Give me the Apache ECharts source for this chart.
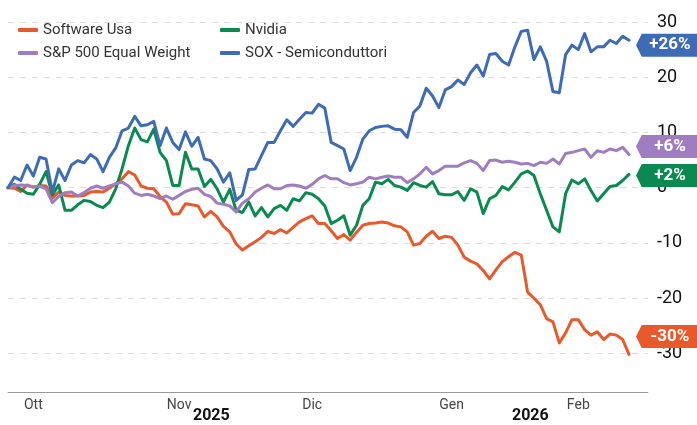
<!DOCTYPE html>
<html>
<head>
<meta charset="utf-8">
<script src="https://cdn.jsdelivr.net/npm/echarts@6/dist/echarts.min.js"></script>
<style>
  html, body { margin: 0; padding: 0; background: #fff; }
  #chart { width: 697px; height: 425px; }
</style>
</head>
<body>
<div id="chart"></div>
<script>
// sedute di borsa (indice), etichette dei mesi sull'asse x
const days = Array.from({ length: 102 }, (_, i) => String(i));
const monthIdx = [4, 27, 48, 70, 90];
const monthLbl = ['Ott', 'Nov', 'Dic', 'Gen', 'Feb'];
const yTicks = [-30, -20, -10, 0, 10, 20, 30];

// variazione % dall'inizio del periodo
const software = [0, -0.1, -0.7, 0.5, 0.1, 0.4, 0.3, -1.9, -0.8, -1.4, -1.5, -1.5, -1.4, -0.8, -0.7, -0.8, -0.1, 0.7, 1.6, 2.9,
  2.3, 0.3, -0.1, -0.2, -1.6, -2.6, -4.8, -4.7, -2.9, -3.1, -3.3, -5.3, -4.3, -5.3, -7.0, -8.0, -10.2, -11.3, -10.5, -9.8,
  -9.0, -7.9, -8.3, -7.6, -8.2, -7.2, -6.2, -5.6, -5.1, -6.5, -6.5, -7.8, -9.2, -8.5, -9.5, -8.1, -6.8, -6.5, -6.4, -6.2,
  -6.4, -6.9, -7.1, -8.0, -10.4, -10.1, -8.8, -7.9, -9.2, -8.8, -9.0, -10.4, -12.6, -13.3, -13.8, -15.0, -16.5, -14.9, -13.4, -12.5,
  -11.7, -12.2, -18.9, -20.0, -21.2, -23.7, -24.3, -28.1, -26.3, -23.9, -23.9, -25.7, -26.7, -26.1, -27.5, -26.5, -26.7, -27.5, -30.2];
const nvidia = [0, 0.6, -0.3, -1.0, -1.2, 0.6, 2.9, -1.3, 0.5, -4.1, -4.1, -3.1, -2.3, -2.5, -3.2, -3.6, -2.6, -0.2, 3.4, 7.6,
  10.8, 8.7, 8.3, 10.6, 6.4, 4.9, 0.4, 0.4, 6.4, 3.4, 3.4, 0.2, 1.5, -0.2, -2.6, -0.3, -4.1, -4.5, -2.6, -5.1,
  -3.6, -5.3, -3.8, -3.2, -4.1, -2.0, -2.4, -0.9, -1.2, -2.0, -3.3, -6.5, -5.9, -5.1, -8.6, -6.8, -3.2, -2.0, 1.0, 0.7,
  1.5, 0.4, 0.1, -0.5, 0.9, 0.4, 0.1, 1.1, -1.1, -1.3, -1.3, -0.7, -2.3, -0.2, -0.8, -4.7, -2.0, -1.4, 0.2, -0.4,
  1.0, 2.5, 3.0, 2.2, -1.1, -4.1, -7.1, -8.0, -1.1, 1.4, 0.7, 1.6, -0.5, -2.4, -1.1, 0.2, 0.4, 1.3, 2.4];
const spEqual = [0, 0.4, 0.5, 0.4, 0.1, 0.3, -0.2, -2.7, -1.6, -0.9, -0.8, -1.5, -0.9, -0.1, 0.3, -0.1, 0.3, 0.7, 1.0, 0.3,
  -1.0, -1.4, -1.2, -1.5, -2.0, -1.5, -2.1, -1.4, -0.7, -0.3, -0.1, -1.2, -1.6, -2.8, -3.0, -3.3, -4.4, -2.8, -2.0, -0.8,
  -0.1, 0.5, -0.2, -0.2, 0.4, 0.5, 0.3, -0.1, 0.6, 1.6, 2.2, 1.6, 1.6, 0.9, 0.5, 0.7, 1.0, 1.9, 1.6, 1.9,
  2.1, 1.9, 1.9, 0.9, 1.6, 2.5, 3.7, 2.5, 3.1, 3.9, 3.9, 3.9, 4.5, 4.9, 4.4, 3.1, 4.9, 5.0, 4.6, 4.8,
  4.6, 4.3, 4.4, 4.0, 4.6, 4.4, 5.2, 4.3, 6.2, 6.4, 6.7, 7.0, 5.5, 6.7, 6.4, 7.0, 6.7, 7.3, 6.0];
const sox = [0, 1.9, 1.3, 4.1, 2.1, 5.5, 5.2, -0.8, 3.4, 1.3, 4.1, 4.9, 4.5, 6.0, 5.2, 2.9, 5.5, 7.2, 10.3, 10.8,
  12.9, 11.2, 11.4, 12.0, 7.6, 10.8, 8.2, 6.9, 10.1, 7.5, 9.1, 5.2, 4.9, 3.4, 1.0, 2.7, -2.3, -1.3, 3.3, 3.4,
  5.8, 8.2, 8.2, 10.3, 12.3, 11.1, 12.4, 13.6, 13.5, 15.1, 14.4, 8.2, 7.6, 7.0, 3.1, 5.5, 8.8, 10.3, 10.9, 11.1,
  11.2, 10.6, 10.5, 9.1, 13.6, 14.8, 18.0, 16.6, 14.5, 17.7, 18.3, 19.5, 18.7, 20.8, 22.2, 20.2, 24.1, 24.3, 22.9, 22.2,
  25.5, 28.3, 28.5, 23.2, 25.5, 22.9, 17.4, 17.2, 24.1, 25.8, 25.0, 27.9, 24.6, 25.5, 25.5, 26.7, 26.1, 27.4, 26.7];

const names = ['Software Usa', 'Nvidia', 'S&P 500 Equal Weight', 'SOX - Semiconduttori'];
const values = [software, nvidia, spEqual, sox];
const colors = ['#E85A2C', '#0A8A50', '#A07DC1', '#3E6BB5'];
const endTags = ['-30%', '+2%', '+6%', '+26%'];
const tagShift = [-18, 1, -8, 5];

const chart = echarts.init(document.getElementById('chart'));

const tagPath = 'path://M0,50 L9,0 L100,0 L100,100 L9,100 Z';

const series = names.map((name, k) => {
  const d = values[k];
  return {
    name: name,
    type: 'line',
    data: d,
    symbol: 'none',
    animation: false,
    color: colors[k],
    lineStyle: { width: 3, cap: 'round', join: 'round' },
    z: 3 + k,
    markPoint: {
      silent: true,
      symbol: tagPath,
      symbolSize: [64, 23],
      symbolOffset: [39, tagShift[k]],
      itemStyle: { color: colors[k] },
      label: {
        show: true,
        position: 'inside',
        formatter: endTags[k],
        color: '#fff',
        fontWeight: 'bold',
        fontSize: 17,
        fontFamily: 'Roboto',
        offset: [2, 0]
      },
      data: [{ coord: [d.length - 1, d[d.length - 1]] }]
    }
  };
});

const legendText = { color: '#333', fontSize: 15, fontFamily: 'Roboto', lineHeight: 18 };

chart.setOption({
  animation: false,
  grid: { left: 8, right: 49, top: 22, bottom: 33, containLabel: false, outerBoundsMode: 'none' },
  legend: [
    {
      orient: 'vertical', left: 13, top: 16, itemGap: 5,
      itemWidth: 20, itemHeight: 4, icon: 'roundRect',
      textStyle: legendText, selectedMode: false,
      data: [names[0], names[2]]
    },
    {
      orient: 'vertical', left: 215, top: 16, itemGap: 5,
      itemWidth: 20, itemHeight: 4, icon: 'roundRect',
      textStyle: legendText, selectedMode: false,
      data: [names[1], names[3]]
    }
  ],
  xAxis: {
    type: 'category',
    data: days,
    boundaryGap: false,
    axisLine: { onZero: false, lineStyle: { color: '#9a9a9a', width: 1 } },
    axisTick: { show: false },
    splitLine: { show: false },
    axisLabel: {
      interval: (i) => monthIdx.indexOf(i) >= 0,
      formatter: (v, i) => monthLbl[monthIdx.indexOf(i)] || '',
      color: '#444',
      fontSize: 14,
      fontFamily: 'Roboto',
      margin: 6
    }
  },
  yAxis: {
    type: 'value',
    position: 'right',
    min: -37,
    max: 30,
    axisLine: { show: false },
    axisTick: { show: false, customValues: yTicks },
    axisLabel: {
      customValues: yTicks,
      color: '#111',
      fontSize: 18,
      fontFamily: 'Roboto',
      margin: 9,
      formatter: (v) => (v % 10 === 0 ? String(v) : '')
    },
    splitLine: { lineStyle: { color: '#dcdcdc', type: [6, 6], width: 1 } }
  },
  graphic: [
    { type: 'text', left: 193, top: 408, style: { text: '2025', font: 'bold 16px Roboto', fill: '#111' } },
    { type: 'text', left: 512, top: 408, style: { text: '2026', font: 'bold 16px Roboto', fill: '#111' } }
  ],
  series: series
});
</script>
</body>
</html>
